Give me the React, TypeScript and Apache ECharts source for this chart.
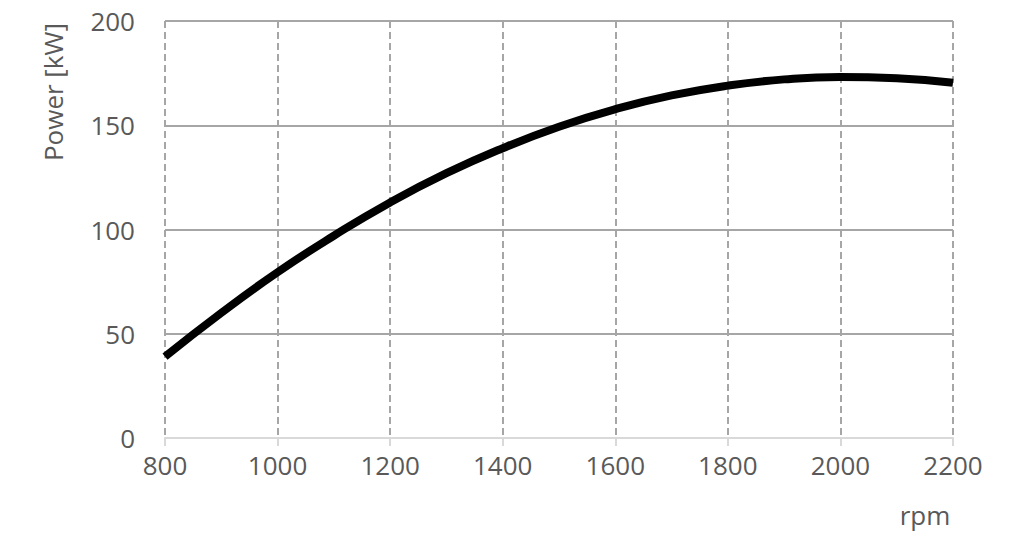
import React, { useEffect, useRef } from "react";
import * as echarts from "echarts";

const rpm = [800, 900, 1000, 1100, 1200, 1300, 1400, 1500, 1600, 1700, 1800, 1900, 2000, 2100, 2200];
const powerKW = [39, 60, 79.5, 97, 113, 127, 139, 149.3, 157.7, 164.3, 169, 172, 173.2, 172.6, 170.4];
const xTicks = { min: 800, max: 2200, interval: 200 };
const yTicks = { min: 0, max: 200, interval: 50 };
const xTitle = "rpm";
const yTitle = "Power [kW]";

const FONT = "'Open Sans', 'Noto Sans', sans-serif";
const TEXT = "#595959";

export default function App() {
  const ref = useRef<HTMLDivElement>(null);
  useEffect(() => {
    if (!ref.current) return;
    const chart = echarts.init(ref.current, undefined, { renderer: "svg" });
    chart.setOption({
      animation: false,
      backgroundColor: "#ffffff",
      grid: { left: 165, right: 67, top: 21, bottom: 102, containLabel: false },
      xAxis: {
        type: "value",
        min: xTicks.min,
        max: xTicks.max,
        interval: xTicks.interval,
        axisLine: { show: true, lineStyle: { color: "#d9d9d9", width: 2 } },
        axisTick: { show: true, length: 8, lineStyle: { color: "#d9d9d9", width: 2 } },
        axisLabel: { color: TEXT, fontFamily: FONT, fontSize: 26, margin: 14, formatter: (v: number) => String(v) },
        splitLine: { show: true, lineStyle: { color: "#a6a6a6", width: 2, type: [7, 4] } },
      },
      yAxis: {
        type: "value",
        min: yTicks.min,
        max: yTicks.max,
        interval: yTicks.interval,
        axisLine: { show: false },
        axisTick: { show: false },
        axisLabel: { color: TEXT, fontFamily: FONT, fontSize: 26, margin: 30, formatter: (v: number) => String(v) },
        splitLine: { show: true, showMinLine: false, lineStyle: { color: "#a6a6a6", width: 2 } },
      },
      series: [
        {
          type: "line",
          data: rpm.map((r, i) => [r, powerKW[i]]),
          smooth: 0.5,
          showSymbol: false,
          symbol: "none",
          lineStyle: { color: "#000000", width: 8, cap: "butt" },
          z: 5,
        },
      ],
      graphic: [
        {
          type: "text",
          x: 925,
          y: 515,
          style: {
            text: xTitle,
            fill: TEXT,
            font: `26px ${FONT}`,
            textAlign: "center",
            textVerticalAlign: "middle",
          },
        },
        {
          type: "text",
          x: 53,
          y: 92,
          rotation: Math.PI / 2,
          style: {
            text: yTitle,
            fill: TEXT,
            font: `26px ${FONT}`,
            textAlign: "center",
            textVerticalAlign: "middle",
          },
        },
      ],
    });
    return () => chart.dispose();
  }, []);
  return <div ref={ref} style={{ width: 1020, height: 540, position: "absolute", left: 0, top: 0 }} />;
}
